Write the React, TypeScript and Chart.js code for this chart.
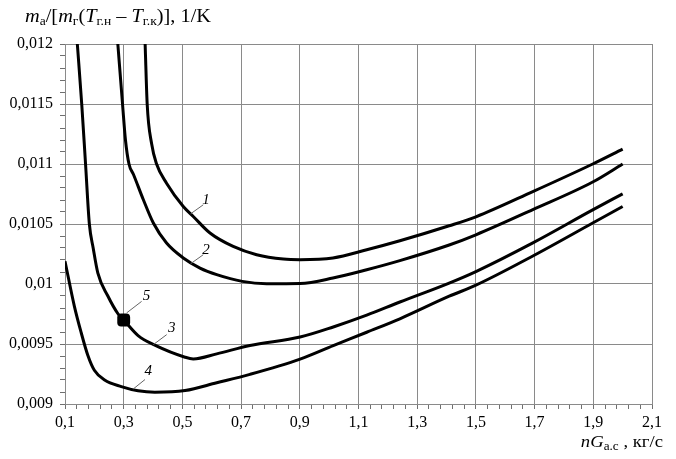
import React, { useEffect, useRef } from "react";
import { Chart, registerables } from "chart.js";

Chart.register(...registerables);

// ---- data ----
const curve1X = [0.373, 0.380, 0.395, 0.412, 0.446, 0.503, 0.537, 0.594, 0.673, 0.753, 0.844, 0.901, 1.013, 1.128, 1.241, 1.409, 1.5, 1.694, 1.898, 2.0];
const curve1Y = [0.012, 0.0115, 0.01117, 0.011, 0.01084, 0.010646, 0.010563, 0.010425, 0.010313, 0.010244, 0.010208, 0.010203, 0.010217, 0.010285, 0.01036, 0.010485, 0.01056, 0.01077, 0.011, 0.011124];

const curve2X = [0.280, 0.296, 0.306, 0.318, 0.333, 0.367, 0.401, 0.446, 0.503, 0.56, 0.617, 0.704, 0.787, 0.901, 1.013, 1.128, 1.241, 1.409, 1.5, 1.694, 1.898, 2.0];
const curve2Y = [0.012, 0.0115, 0.0112, 0.011, 0.010915, 0.010702, 0.010508, 0.010341, 0.010217, 0.010133, 0.010078, 0.010022, 0.010003, 0.010005, 0.01005, 0.010119, 0.010195, 0.010325, 0.01041, 0.01062, 0.01085, 0.011];

const curve3X = [0.142, 0.157, 0.170, 0.183, 0.196, 0.212, 0.246, 0.281, 0.3, 0.349, 0.406, 0.509, 0.537, 0.617, 0.73, 0.901, 1.014, 1.128, 1.241, 1.409, 1.5, 1.694, 1.898, 2.0];
const curve3Y = [0.012, 0.0115, 0.011, 0.0105, 0.0103, 0.01009, 0.0099, 0.00975, 0.0097, 0.00957, 0.00949, 0.00939, 0.009376, 0.009418, 0.009488, 0.009558, 0.009642, 0.00974, 0.00985, 0.010008, 0.010104, 0.010343, 0.010618, 0.010751];

const curve4X = [0.1, 0.132, 0.155, 0.178, 0.2, 0.235, 0.292, 0.349, 0.406, 0.509, 0.617, 0.73, 0.901, 1.014, 1.128, 1.241, 1.409, 1.5, 1.694, 1.898, 2.0];
const curve4Y = [0.01019, 0.009814, 0.009596, 0.009404, 0.009281, 0.0092, 0.009145, 0.00911, 0.009098, 0.009112, 0.009177, 0.009247, 0.009374, 0.009486, 0.009598, 0.00971, 0.009898, 0.00999, 0.010233, 0.010508, 0.010646];

const markerX = [0.3];
const markerY = [0.0097];

// curve labels with leader lines
const labelTexts = ["1", "2", "3", "4", "5"];
const labelX = [0.580, 0.580, 0.4635, 0.384, 0.378];
const labelY = [0.010702, 0.010286, 0.009634, 0.009273, 0.009897];
const leaderX1 = [0.528, 0.528, 0.401, 0.333, 0.310];
const leaderY1 = [0.010585, 0.010169, 0.009495, 0.009126, 0.009759];
const leaderX2 = [0.571, 0.571, 0.4465, 0.3726, 0.361];
const leaderY2 = [0.01066, 0.010244, 0.009578, 0.009204, 0.009855];

const xMin = 0.1;
const xMax = 2.1;
const xMinorStep = 0.04;
const yMin = 0.009;
const yMax = 0.012;
const yMinorStep = 0.0001;

const FONT = '"Liberation Serif", "Times New Roman", serif';
const GRID = "#8a8a8a";
const TICK = "#6f6f6f";

type Seg = { t: string; i?: boolean; s: number; dy?: number };

const titleSegs: Seg[] = [
  { t: "m", i: true, s: 18 },
  { t: "а", s: 12, dy: 3 },
  { t: "/[", s: 18 },
  { t: "m", i: true, s: 18 },
  { t: "г", s: 12, dy: 3 },
  { t: "(", s: 18 },
  { t: "T", i: true, s: 18 },
  { t: "г.н", s: 12, dy: 3 },
  { t: " – ", s: 18 },
  { t: "T", i: true, s: 18 },
  { t: "г.к", s: 12, dy: 3 },
  { t: ")], 1/K", s: 18 },
];

const xTitleSegs: Seg[] = [
  { t: "n", i: true, s: 17 },
  { t: "G", i: true, s: 17 },
  { t: "а.с", s: 12, dy: 3 },
  { t: " , кг/с", s: 17 },
];

function segFont(seg: Seg) {
  return `${seg.i ? "italic " : ""}${seg.s}px ${FONT}`;
}

function measureSegs(ctx: CanvasRenderingContext2D, segs: Seg[]) {
  let w = 0;
  for (const seg of segs) {
    ctx.font = segFont(seg);
    w += ctx.measureText(seg.t).width;
  }
  return w;
}

function drawSegs(ctx: CanvasRenderingContext2D, x: number, y: number, segs: Seg[], sx: number) {
  ctx.save();
  ctx.translate(x, y);
  ctx.scale(sx, 1);
  ctx.fillStyle = "#000";
  ctx.textBaseline = "alphabetic";
  ctx.textAlign = "left";
  let cx = 0;
  for (const seg of segs) {
    ctx.font = segFont(seg);
    ctx.fillText(seg.t, cx, seg.dy || 0);
    cx += ctx.measureText(seg.t).width;
  }
  ctx.restore();
}

const textPlugin = {
  id: "textPlugin",
  afterDatasetsDraw(chart: any) {
    const ctx: CanvasRenderingContext2D = chart.ctx;
    const xs = chart.scales.x;
    const ys = chart.scales.y;
    ctx.save();
    ctx.strokeStyle = "#666";
    ctx.lineWidth = 1;
    for (let k = 0; k < labelTexts.length; k++) {
      ctx.beginPath();
      ctx.moveTo(xs.getPixelForValue(leaderX1[k]), ys.getPixelForValue(leaderY1[k]));
      ctx.lineTo(xs.getPixelForValue(leaderX2[k]), ys.getPixelForValue(leaderY2[k]));
      ctx.stroke();
    }
    ctx.fillStyle = "#000";
    ctx.font = `italic 15px ${FONT}`;
    ctx.textAlign = "center";
    ctx.textBaseline = "middle";
    for (let k = 0; k < labelTexts.length; k++) {
      ctx.fillText(labelTexts[k], xs.getPixelForValue(labelX[k]), ys.getPixelForValue(labelY[k]));
    }
    ctx.restore();
  },
  afterDraw(chart: any) {
    const ctx: CanvasRenderingContext2D = chart.ctx;
    drawSegs(ctx, 25, 22, titleSegs, 1.13);
    const sx = 1.1;
    const w = measureSegs(ctx, xTitleSegs) * sx;
    drawSegs(ctx, 663 - w, 447, xTitleSegs, sx);
  },
};

function pts(xs: number[], ys: number[]) {
  return xs.map((x, i) => ({ x, y: ys[i] }));
}

function lineDs(xs: number[], ys: number[]) {
  return {
    data: pts(xs, ys),
    borderColor: "#000",
    backgroundColor: "#000",
    borderWidth: 3,
    pointRadius: 0,
    cubicInterpolationMode: "monotone" as const,
    fill: false,
  };
}

export default function App() {
  const ref = useRef<HTMLCanvasElement | null>(null);

  useEffect(() => {
    if (!ref.current) return;
    const chart = new Chart(ref.current, {
      type: "scatter",
      data: {
        datasets: [
          lineDs(curve1X, curve1Y) as any,
          lineDs(curve2X, curve2Y) as any,
          lineDs(curve3X, curve3Y) as any,
          lineDs(curve4X, curve4Y) as any,
          {
            data: pts(markerX, markerY),
            showLine: false,
            pointStyle: "rectRounded",
            pointRadius: 7.5,
            backgroundColor: "#000",
            borderColor: "#000",
            borderWidth: 0,
          } as any,
        ],
      },
      options: {
        responsive: false,
        animation: false,
        showLine: true,
        layout: { padding: { top: 44, right: 24, left: 0, bottom: 0 } },
        plugins: {
          legend: { display: false },
          tooltip: { enabled: false },
          title: { display: false },
        },
        scales: {
          x: {
            type: "linear",
            min: xMin,
            max: xMax,
            afterFit: (s: any) => {
              s.height = 55;
            },
            ticks: {
              stepSize: xMinorStep,
              autoSkip: false,
              maxRotation: 0,
              padding: 4,
              color: "#000",
              font: { family: FONT, size: 16 },
              callback: (v: any) => {
                const k = Math.round((Number(v) - xMin) / xMinorStep);
                if (k % 5 !== 0) return "";
                return Number(v).toFixed(1).replace(".", ",");
              },
            },
            grid: {
              color: (c: any) => {
                const v = c.tick ? c.tick.value : 0;
                const k = Math.round((v - xMin) / xMinorStep);
                return k % 5 === 0 ? GRID : "rgba(0,0,0,0)";
              },
              tickColor: TICK,
              tickLength: 5,
              tickWidth: 1,
              lineWidth: 1,
            },
            border: { color: GRID, width: 1 },
          },
          y: {
            type: "linear",
            min: yMin,
            max: yMax,
            afterFit: (s: any) => {
              s.width = 65;
            },
            ticks: {
              stepSize: yMinorStep,
              autoSkip: false,
              padding: 7,
              color: "#000",
              font: { family: FONT, size: 16 },
              callback: (v: any) => {
                const n = Math.round(Number(v) * 10000);
                if (n % 5 !== 0) return "";
                return String(parseFloat((n / 10000).toFixed(4))).replace(".", ",");
              },
            },
            grid: {
              color: (c: any) => {
                const v = c.tick ? c.tick.value : 0;
                const n = Math.round(v * 10000);
                return n % 5 === 0 ? GRID : "rgba(0,0,0,0)";
              },
              tickColor: TICK,
              tickLength: 5,
              tickWidth: 1,
              lineWidth: 1,
            },
            border: { color: GRID, width: 1 },
          },
        },
      } as any,
      plugins: [textPlugin],
    });
    return () => chart.destroy();
  }, []);

  return (
    <div style={{ position: "fixed", left: 0, top: 0, width: 676, height: 459, background: "#fff" }}>
      <canvas ref={ref} width={676} height={459} style={{ width: 676, height: 459, display: "block" }} />
    </div>
  );
}
